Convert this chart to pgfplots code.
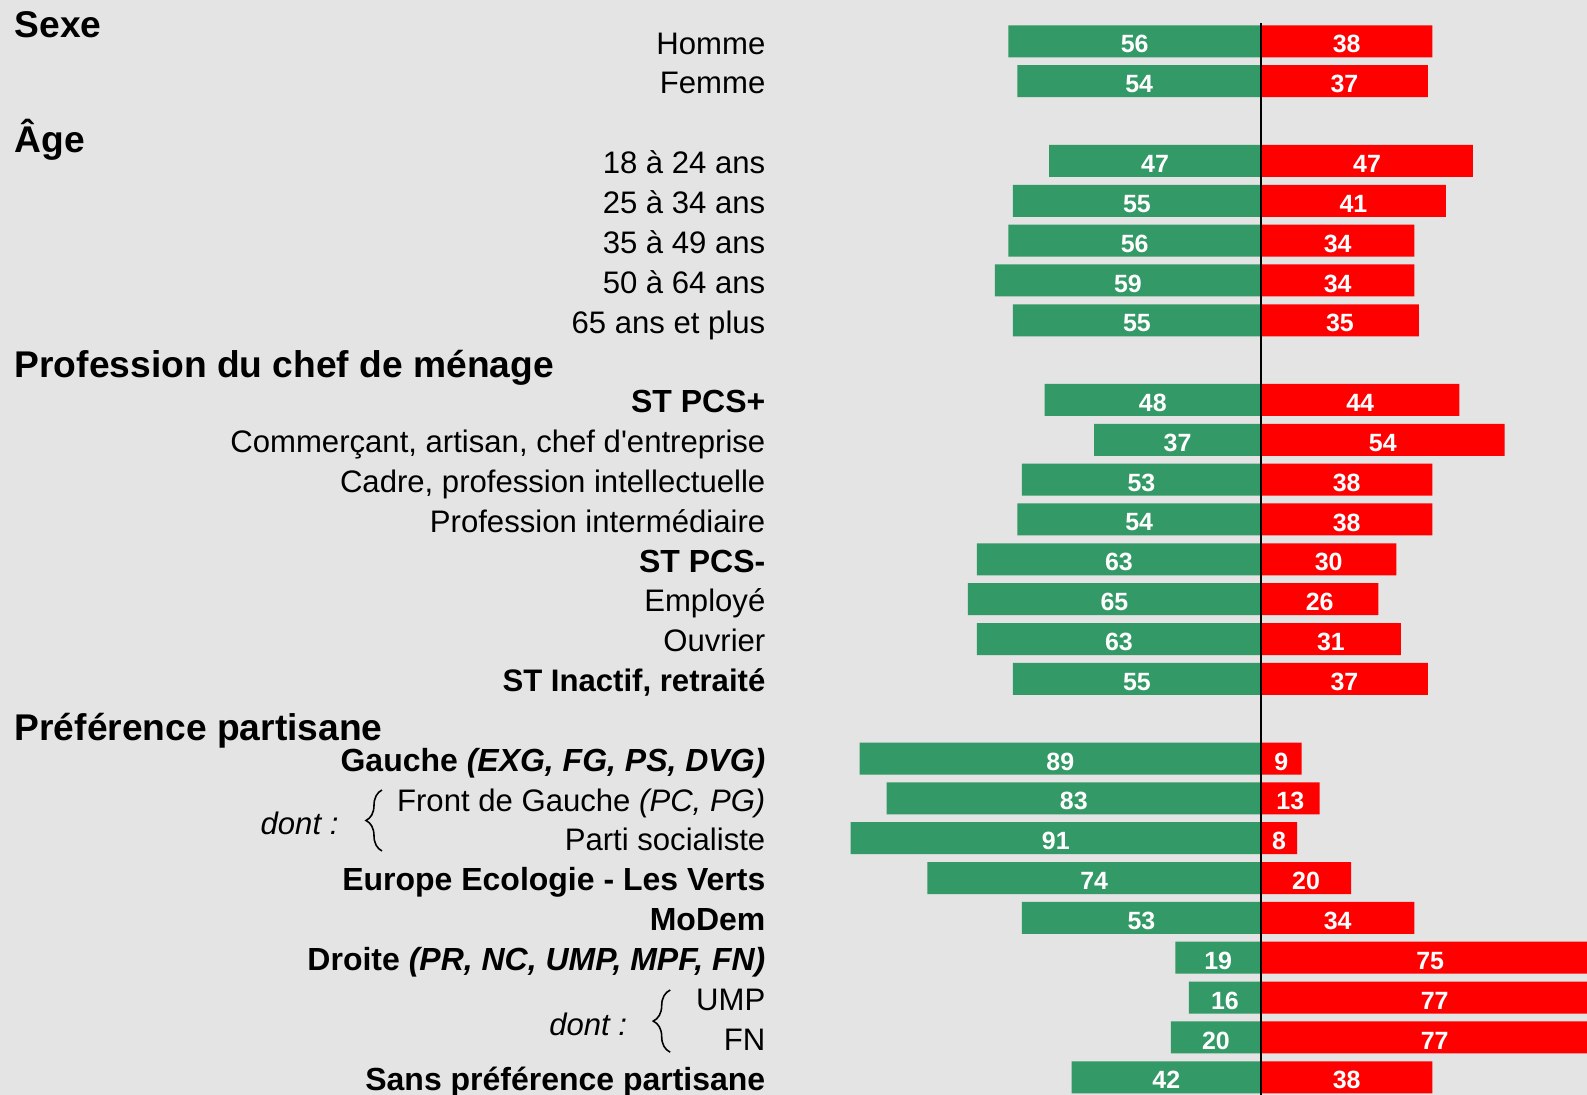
\documentclass[border=0pt]{standalone}
\usepackage{pgfplots}
\pgfplotsset{compat=1.18}
\usepackage{pgfplotstable}
\usepackage{fontspec}
\setmainfont{Liberation Sans}
\usetikzlibrary{decorations.pathreplacing}
\definecolor{bggray}{HTML}{E4E4E4}
\definecolor{vgreen}{HTML}{339966}
\definecolor{vred}{HTML}{FF0000}

\pgfplotstableread{
row g r
0 56 38
1 54 37
3 47 47
4 55 41
5 56 34
6 59 34
7 55 35
9 48 44
10 37 54
11 53 38
12 54 38
13 63 30
14 65 26
15 63 31
16 55 37
18 89 9
19 83 13
20 91 8
21 74 20
22 53 34
23 19 75
24 16 77
25 20 77
26 42 38
}\data

\newcommand{\lab}[2]{\node[anchor=base east, inner sep=0pt, font=\fontsize{8.85}{10}\selectfont] at (axis cs:-109.75,#1) {#2};}
\newcommand{\blab}[2]{\node[anchor=base east, inner sep=0pt, font=\bfseries\fontsize{9.1}{10}\selectfont] at (axis cs:-109.75,#1) {#2};}
\newcommand{\slab}[2]{\node[anchor=base east, inner sep=0pt, font=\bfseries\fontsize{8.85}{10}\selectfont] at (axis cs:-109.75,#1) {#2};}
\newcommand{\head}[2]{\node[anchor=base west, inner sep=0pt, font=\bfseries\fontsize{10.58}{12}\selectfont] at (axis cs:-276.5,#1) {#2};}

\begin{document}
\begin{tikzpicture}
\begin{axis}[
  scale only axis,
  width=15.87cm, height=10.95cm,
  xmin=-279.6, xmax=72.28,
  ymin=-1.039, ymax=26.445,
  y dir=reverse,
  axis lines=none,
  ticks=none,
  axis background/.style={fill=bggray},
  clip=true,
]
\addplot[xbar, bar width=0.32cm, bar shift=0pt, fill=vgreen, draw=none]
  table[x expr=-\thisrow{g}, y=row] {\data};
\addplot[xbar, bar width=0.32cm, bar shift=0pt, fill=vred, draw=none]
  table[x=r, y=row] {\data};
\addplot[draw=none, mark=none, nodes near coords, point meta=explicit symbolic,
  nodes near coords style={anchor=center, text=white, yshift=-0.03cm,
    font=\bfseries\fontsize{7.1}{8}\selectfont}]
  table[x expr=-\thisrow{g}/2, y=row, meta=g] {\data};
\addplot[draw=none, mark=none, nodes near coords, point meta=explicit symbolic,
  nodes near coords style={anchor=center, text=white, yshift=-0.03cm,
    font=\bfseries\fontsize{7.1}{8}\selectfont}]
  table[x expr=\thisrow{r}/2, y=row, meta=r] {\data};
\addplot[black, line width=0.6pt] coordinates {(0,-0.46) (0,26.445)};

\head{-0.09}{Sexe}
\head{2.79}{Âge}
\head{8.44}{Profession du chef de ménage}
\head{17.55}{Préférence partisane}

\lab{0.32}{Homme}
\lab{1.32}{Femme}
\lab{3.32}{18 à 24 ans}
\lab{4.32}{25 à 34 ans}
\lab{5.32}{35 à 49 ans}
\lab{6.32}{50 à 64 ans}
\lab{7.32}{65 ans et plus}
\blab{9.32}{ST PCS+}
\lab{10.32}{Commerçant, artisan, chef d\textquotesingle entreprise}
\lab{11.32}{Cadre, profession intellectuelle}
\lab{12.32}{Profession intermédiaire}
\blab{13.32}{ST PCS-}
\lab{14.32}{Employé}
\lab{15.32}{Ouvrier}
\slab{16.32}{ST Inactif, retraité}
\blab{18.32}{Gauche \textit{(EXG, FG, PS, DVG)}}
\lab{19.32}{Front de Gauche \textit{(PC, PG)}}
\lab{20.32}{Parti socialiste}
\blab{21.32}{Europe Ecologie - Les Verts}
\blab{22.32}{MoDem}
\blab{23.32}{Droite \textit{(PR, NC, UMP, MPF, FN)}}
\lab{24.32}{UMP}
\lab{25.32}{FN}
\blab{26.32}{Sans préférence partisane}

\node[anchor=east, inner sep=0pt, font=\itshape\fontsize{8.85}{10}\selectfont] at (axis cs:-204.4,19.62) {dont :};
\node[anchor=east, inner sep=0pt, font=\itshape\fontsize{8.85}{10}\selectfont] at (axis cs:-140.4,24.67) {dont :};
\draw[decorate, decoration={brace, amplitude=0.16cm}, line width=0.45pt] (axis cs:-194.9,20.32) -- (axis cs:-194.9,18.79);
\draw[decorate, decoration={brace, amplitude=0.17cm}, line width=0.45pt] (axis cs:-131.0,25.37) -- (axis cs:-131.0,23.81);
\end{axis}
\pgfresetboundingbox
\useasboundingbox (current axis.south west) rectangle (current axis.north east);
\end{tikzpicture}
\end{document}
